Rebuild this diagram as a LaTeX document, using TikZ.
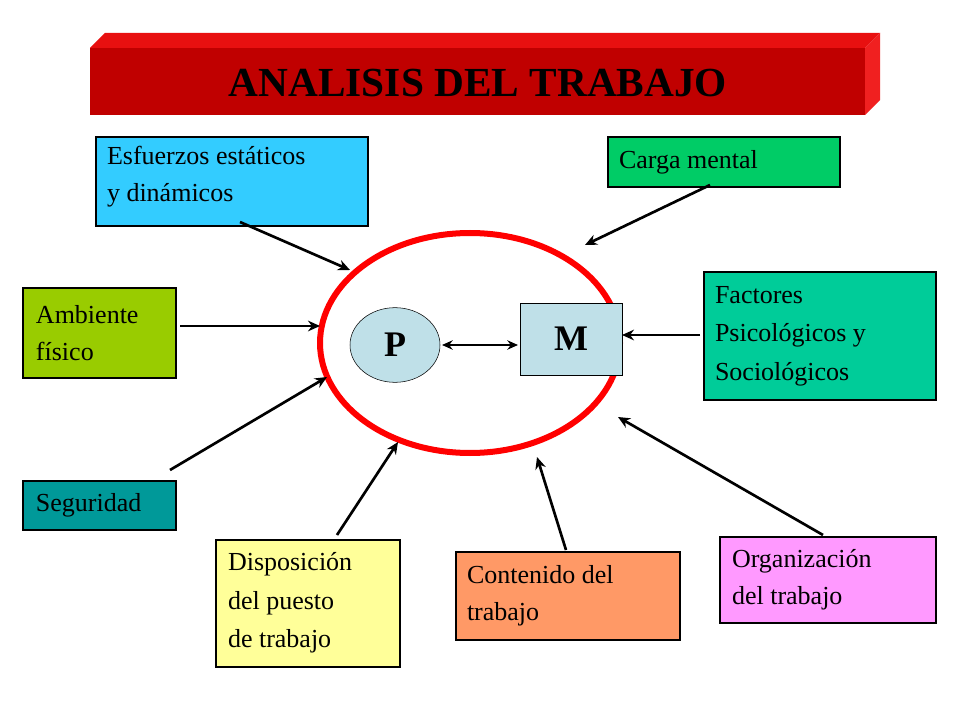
\documentclass[tikz,border=0pt]{standalone}
\usepackage{fontspec}
\setmainfont{Liberation Serif}
\usetikzlibrary{arrows.meta,shapes.geometric}
\definecolor{bannerred}{HTML}{C00000}
\definecolor{bannertop}{HTML}{E81010}
\definecolor{bannerside}{HTML}{F02020}
\definecolor{esfcol}{HTML}{33CCFF}
\definecolor{cargacol}{HTML}{00CC66}
\definecolor{ambcol}{HTML}{99CC00}
\definecolor{faccol}{HTML}{00CC99}
\definecolor{segcol}{HTML}{009999}
\definecolor{dispcol}{HTML}{FFFF99}
\definecolor{contcol}{HTML}{FF9966}
\definecolor{orgcol}{HTML}{FF99FF}
\definecolor{pcol}{HTML}{BFE0E8}
\tikzset{
  factorbox/.style={draw, line width=1.5pt, align=left, inner sep=0pt, font=\fontsize{19.5}{28}\selectfont},
  feed/.style={-{Stealth[length=9pt,width=8pt]}, line width=2pt},
}
\begin{document}
\begin{tikzpicture}[x=0.75pt,y=0.75pt,yscale=-1,xscale=1]
        \useasboundingbox (0,0) rectangle (960,720);
        \fill[white] (0,0) rectangle (960,720);

        % banner
        \fill[bannertop] (90,48) -- (105,33) -- (880,33) -- (865,48) -- cycle;
        \fill[bannerside] (865,48) -- (880,33) -- (880,100) -- (865,115) -- cycle;
        \fill[bannerred] (90,48) rectangle (865,115);
        \node (title) at (478,83) {\fontsize{31}{36}\selectfont\bfseries ANALISIS DEL TRABAJO};

        % centre
        \draw[red, line width=4.5pt] (470,343) ellipse [x radius=150, y radius=110];
        \node (p) [draw, fill=pcol, ellipse, minimum width=67.5pt, minimum height=56pt, inner sep=0pt] at (395,345) {\fontsize{27}{30}\selectfont\bfseries P};
        \draw[fill=pcol] (520,303) rectangle (622,375);
        \node (m) at (571,339) {\fontsize{27}{30}\selectfont\bfseries M};
        \draw[{Stealth[length=8pt,width=7pt]}-{Stealth[length=8pt,width=7pt]}, line width=2pt] (442,345) -- (518,345);

        % factor boxes
        \filldraw[factorbox, fill=esfcol] (96,137) rectangle (368,226);
        \node (esf) [factorbox, draw=none, anchor=north west] at (106,145) {Esfuerzos estáticos\\y dinámicos};
        \filldraw[factorbox, fill=cargacol] (608,137) rectangle (840,187);
        \node (carga) [factorbox, draw=none, anchor=west] at (618,162) {Carga mental};
        \filldraw[factorbox, fill=ambcol] (23,288) rectangle (176,378);
        \node (amb) [factorbox, draw=none, anchor=west] at (35,333) {Ambiente\\físico};
        \filldraw[factorbox, fill=faccol] (704,272) rectangle (936,400);
        \node (fac) [factorbox, draw=none, anchor=west, font=\fontsize{19.5}{29}\selectfont] at (714,336) {Factores\\Psicológicos y\\Sociológicos};
        \filldraw[factorbox, fill=segcol] (23,481) rectangle (176,530);
        \node (seg) [factorbox, draw=none, anchor=west] at (35,505) {Seguridad};
        \filldraw[factorbox, fill=dispcol] (216,540) rectangle (400,667);
        \node (disp) [factorbox, draw=none, anchor=west, font=\fontsize{19.5}{29}\selectfont] at (227,603) {Disposición\\del puesto\\de trabajo};
        \filldraw[factorbox, fill=contcol] (456,552) rectangle (680,640);
        \node (cont) [factorbox, draw=none, anchor=west] at (466,596) {Contenido del\\trabajo};
        \filldraw[factorbox, fill=orgcol] (720,537) rectangle (936,623);
        \node (org) [factorbox, draw=none, anchor=west] at (731,580) {Organización\\del trabajo};

        % arrow ends
        \coordinate (e1) at (240,222);  \coordinate (t1) at (350,270);
        \coordinate (e2) at (710,185);  \coordinate (t2) at (585,245);
        \coordinate (e3) at (180,326);  \coordinate (t3) at (320,326);
        \coordinate (e4) at (700,335);  \coordinate (t4) at (622,335);
        \coordinate (e5) at (170,470);  \coordinate (t5) at (327,377);
        \coordinate (e6) at (337,535);  \coordinate (t6) at (398,442);
        \coordinate (e7) at (566,550);  \coordinate (t7) at (537,457);
        \coordinate (e8) at (823,535);  \coordinate (t8) at (618,417);
        \foreach \i in {1,...,8}
          \draw[feed] (e\i) -- (t\i);

\end{tikzpicture}
\end{document}
